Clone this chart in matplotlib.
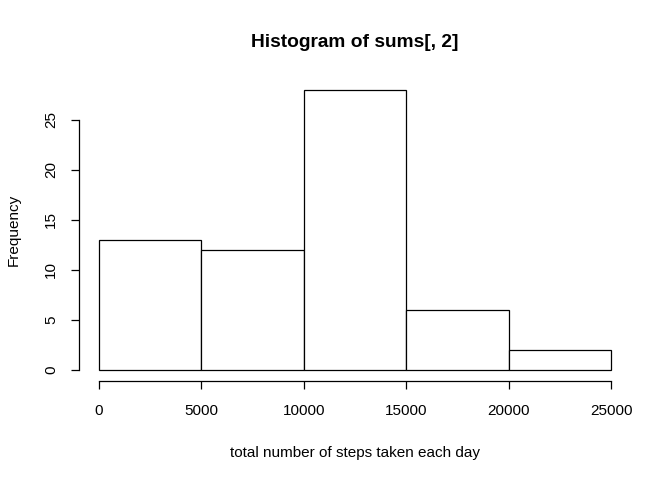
import matplotlib
matplotlib.use("Agg")
import matplotlib.pyplot as plt
import numpy as np

# histogram bins and counts
breaks = [0, 5000, 10000, 15000, 20000, 25000]
counts = [13, 12, 28, 6, 2]
x_ticks = [0, 5000, 10000, 15000, 20000, 25000]
y_ticks = [0, 5, 10, 15, 20, 25]

plt.rcParams['font.family'] = ['Liberation Sans', 'DejaVu Sans']

W, H = 672, 480
fig = plt.figure(figsize=(W / 100, H / 100), dpi=100)
ax = fig.add_axes([78.5 / W, (H - 381) / H, (631.5 - 78.5) / W, (381 - 78.8) / H])

edges = np.array(breaks)
ax.bar(edges[:-1], counts, width=np.diff(edges), align='edge',
       color='white', edgecolor='black', linewidth=0.9)

ax.set_xlim(-1000, 26000)
ax.set_ylim(-1.12, 29.12)

for s in ['top', 'right']:
    ax.spines[s].set_visible(False)
ax.spines['left'].set_bounds(0, 25)
ax.spines['bottom'].set_bounds(0, 25000)
for s in ['left', 'bottom']:
    ax.spines[s].set_linewidth(0.9)

ax.set_xticks(x_ticks)
ax.set_xticklabels([str(v) for v in x_ticks])
ax.set_yticks(y_ticks)
ax.set_yticklabels([str(v) for v in y_ticks], rotation=90, va='center')
ax.tick_params(length=5.5, width=0.9, labelsize=11)
ax.tick_params(axis='x', pad=11)
ax.tick_params(axis='y', pad=9)

ax.set_xlabel('total number of steps taken each day', fontsize=11, labelpad=20)
ax.set_ylabel('Frequency', fontsize=11, labelpad=17)
ax.set_title('Histogram of sums[, 2]', fontsize=13.8, fontweight='bold', pad=23)

fig.savefig('out.png', dpi=100)
